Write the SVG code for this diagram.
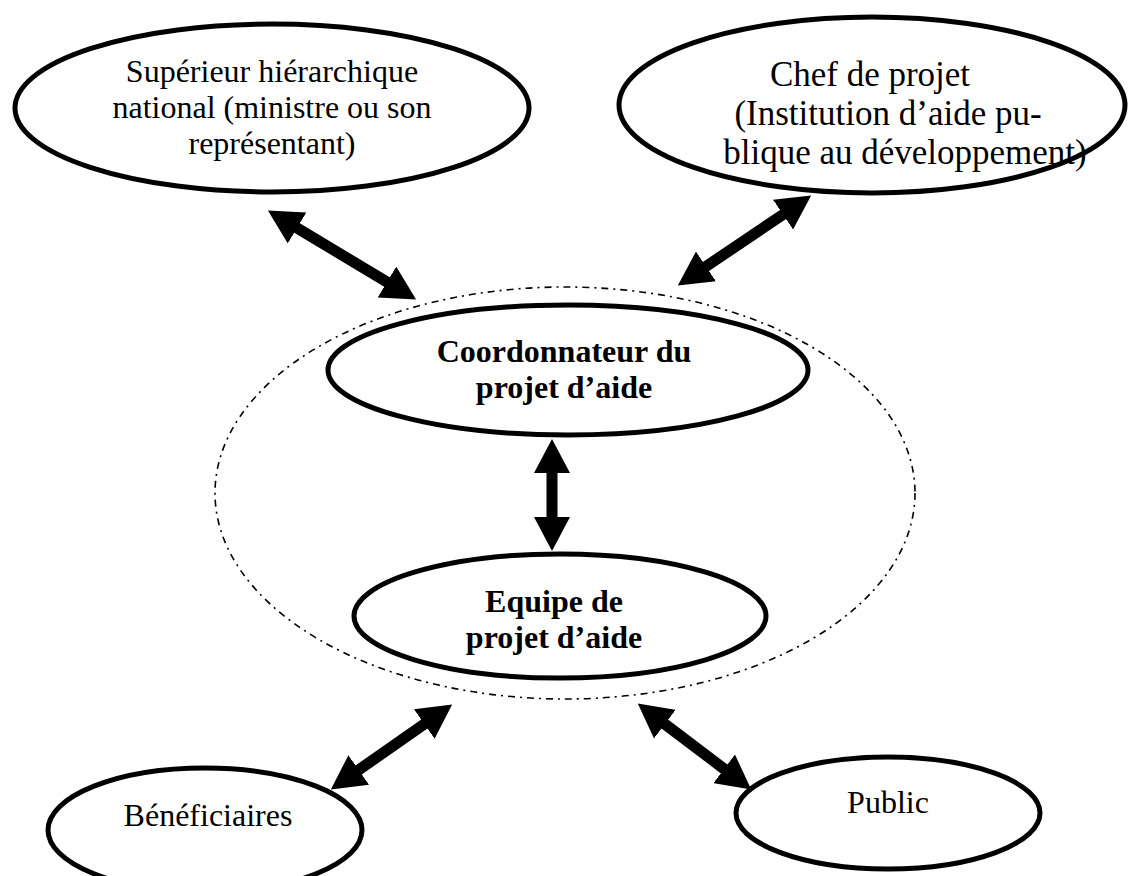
<svg xmlns="http://www.w3.org/2000/svg" width="1128" height="876" viewBox="0 0 1128 876">
<style>
.node{fill:#fff;stroke:#000;stroke-width:5}
.t{font-family:"Liberation Serif","Times New Roman",serif;font-size:32px;fill:#000;text-anchor:middle}
.c{font-size:35px}
.b{font-weight:bold}
.arr{stroke:#000;stroke-width:11;fill:none;marker-start:url(#ah);marker-end:url(#ah)}
.group{fill:none;stroke:#000;stroke-width:1.6;stroke-dasharray:7 5 2 5}
</style>
<defs>
<marker id="ah" viewBox="0 0 34 36" markerWidth="34" markerHeight="36" markerUnits="userSpaceOnUse" refX="1" refY="18" orient="auto-start-reverse">
<path d="M0,0 L34,18 L0,36 z" fill="#000"/>
</marker>
</defs>
<rect width="1128" height="876" fill="#fff"/>
<g id="team-boundary">
<ellipse class="group" cx="565" cy="493" rx="350" ry="206"/>
</g>
<g id="superieur">
<ellipse class="node" cx="272" cy="108" rx="257" ry="84"/>
<text class="t" x="272" y="82">Supérieur hiérarchique</text>
<text class="t" x="272" y="118">national (ministre ou son</text>
<text class="t" x="272" y="154">représentant)</text>
</g>
<g id="chef">
<ellipse class="node" cx="872" cy="105" rx="253" ry="88"/>
<text class="t c" x="870" y="86">Chef de projet</text>
<text class="t c" x="888" y="125">(Institution d’aide pu-</text>
<text class="t c" x="905" y="164">blique au développement)</text>
</g>
<g id="coordonnateur">
<ellipse class="node" cx="568" cy="370" rx="240" ry="65"/>
<text class="t b" x="564" y="362">Coordonnateur du</text>
<text class="t b" x="564" y="398">projet d’aide</text>
</g>
<g id="equipe">
<ellipse class="node" cx="560" cy="616" rx="206" ry="62"/>
<text class="t b" x="554" y="612">Equipe de</text>
<text class="t b" x="554" y="648">projet d’aide</text>
</g>
<g id="beneficiaires">
<ellipse class="node" cx="205" cy="830" rx="157" ry="62"/>
<text class="t" x="208" y="826">Bénéficiaires</text>
</g>
<g id="public">
<ellipse class="node" cx="888" cy="813" rx="152" ry="56"/>
<text class="t" x="888" y="813">Public</text>
</g>
<g id="connectors">
<line class="arr" x1="296.2" y1="227.5" x2="387.8" y2="282.5"/>
<line class="arr" x1="783.8" y1="214" x2="705.2" y2="267"/>
<line class="arr" x1="552" y1="472" x2="552" y2="518"/>
<line class="arr" x1="425.1" y1="723.5" x2="357.9" y2="770.5"/>
<line class="arr" x1="664.1" y1="723.5" x2="724.9" y2="769.5"/>
</g>
</svg>
